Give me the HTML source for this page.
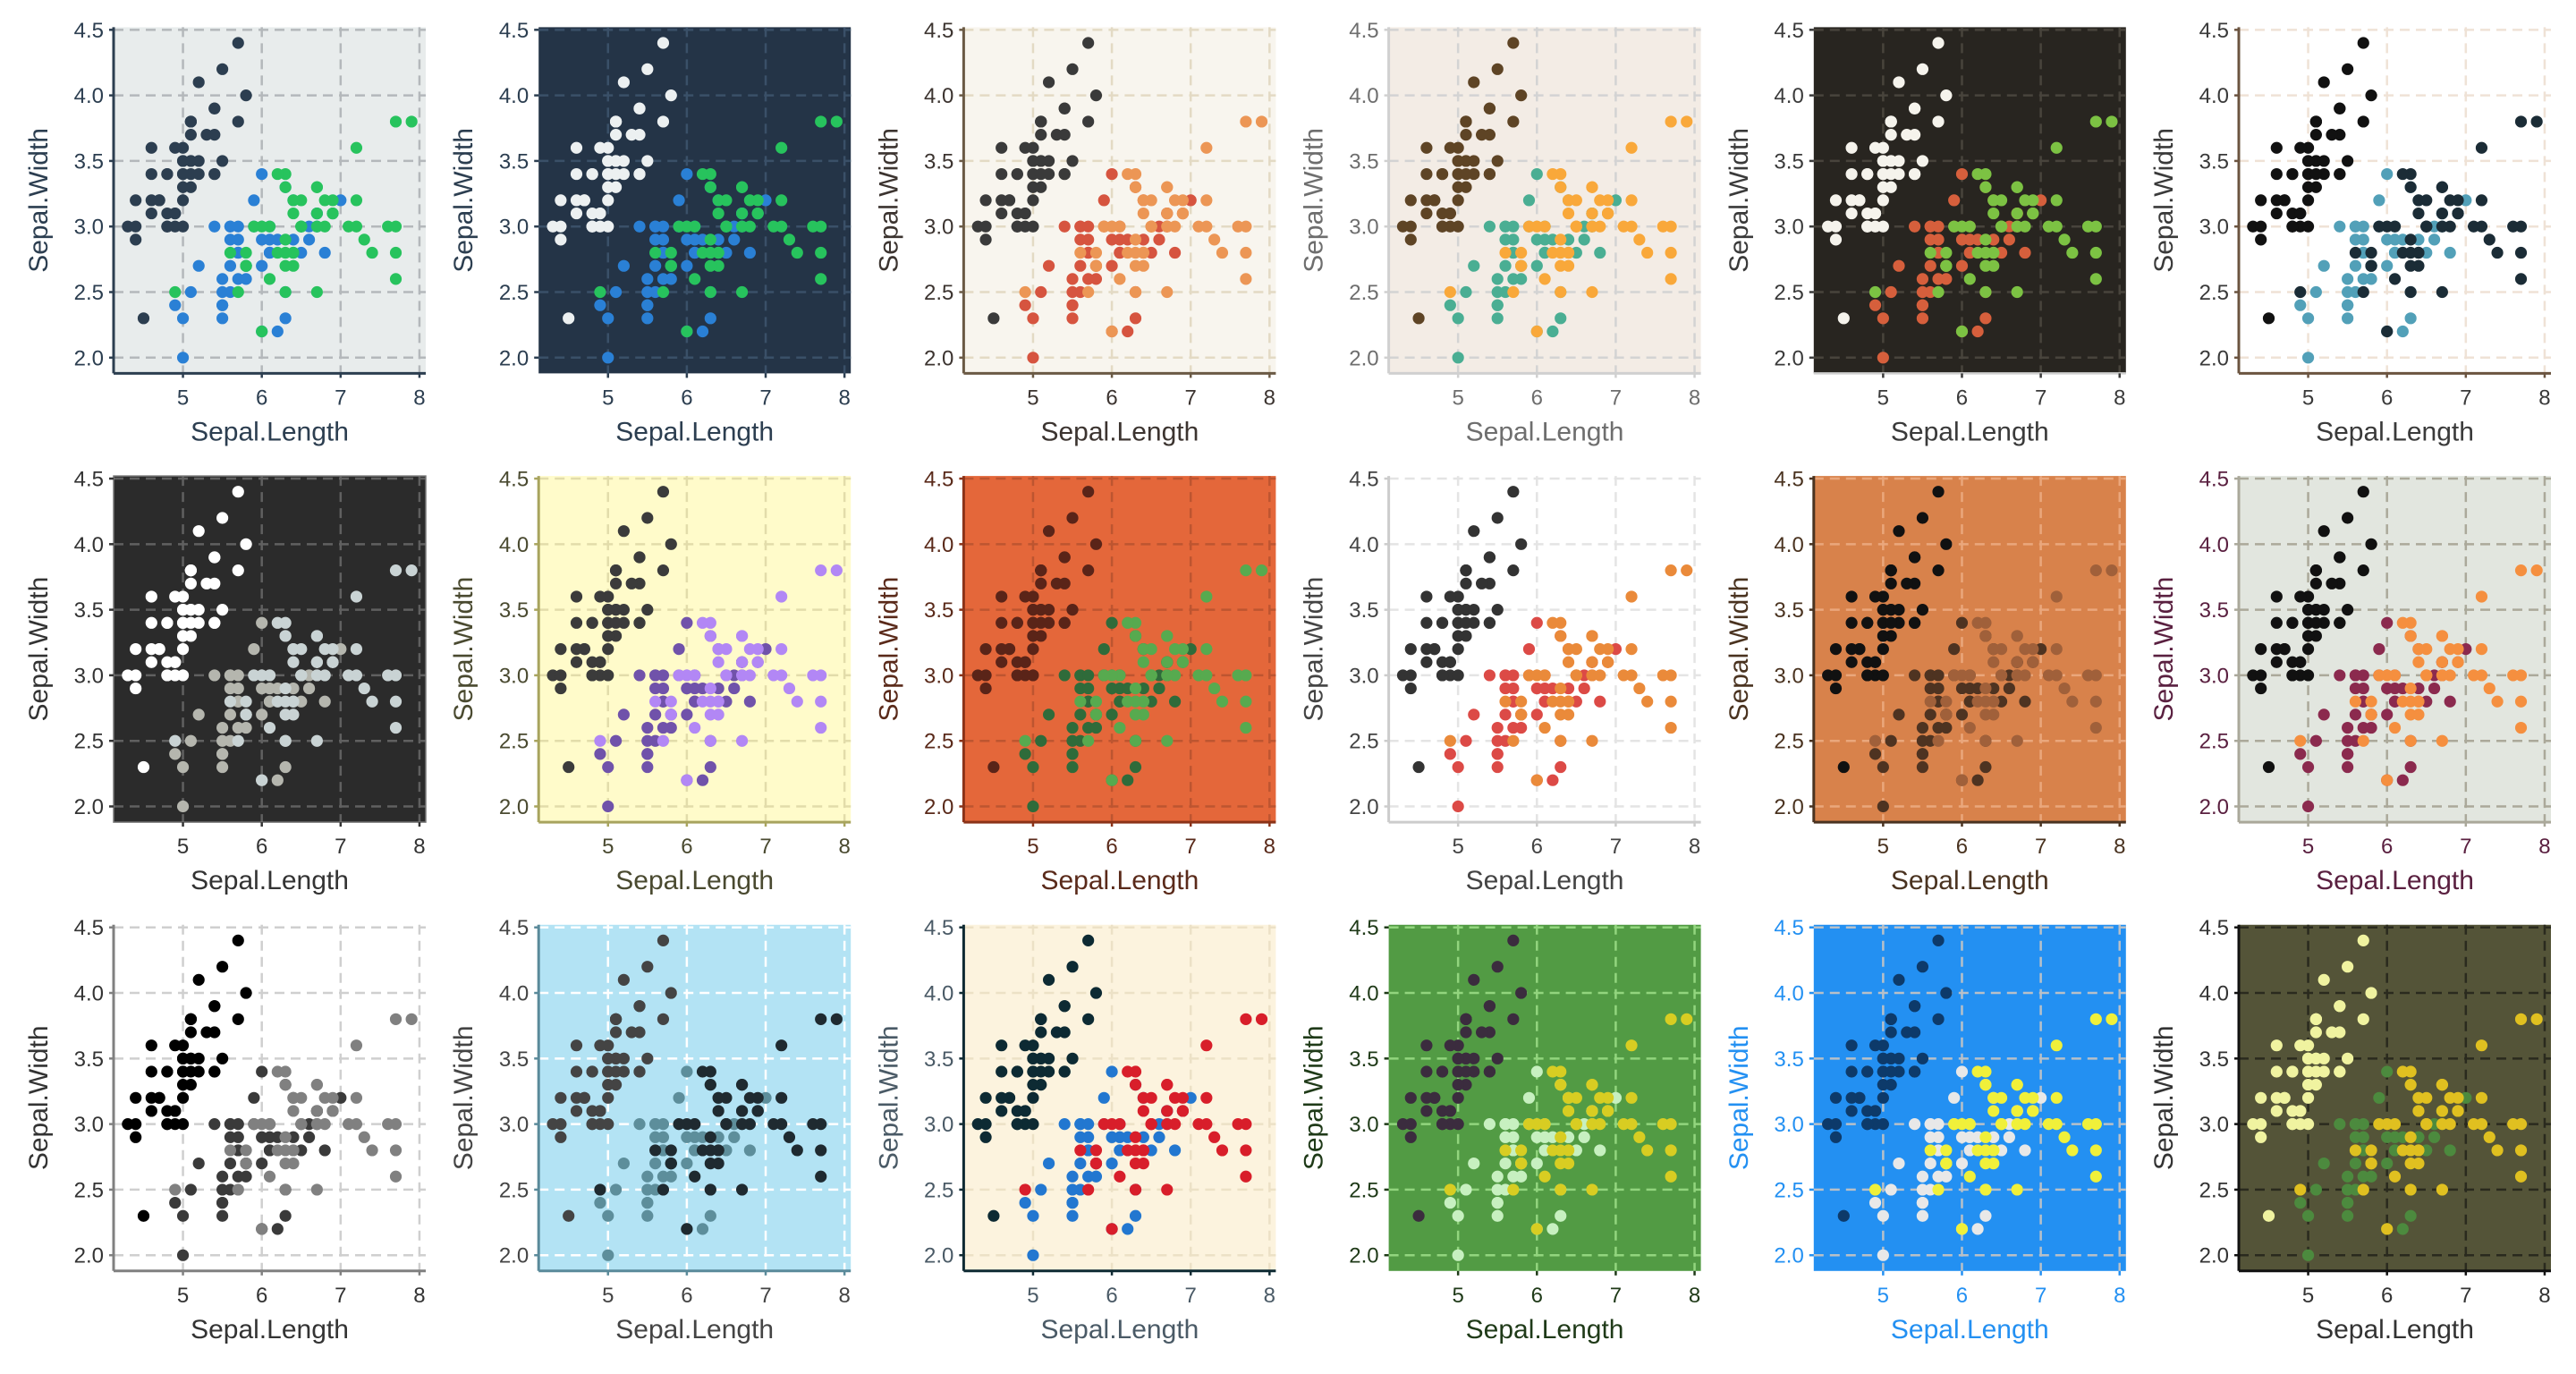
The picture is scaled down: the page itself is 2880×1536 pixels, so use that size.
<!DOCTYPE html>
<html><head><meta charset="utf-8"><style>
html,body{margin:0;padding:0;background:#fff}
svg{display:block}
text{font-family:"Liberation Sans",Arial,sans-serif}
</style></head><body>
<svg id="chart" width="2880" height="1536" viewBox="0 0 2880 1536" xmlns="http://www.w3.org/2000/svg"></svg>
<script>
const sepalLength=[5.1,4.9,4.7,4.6,5.0,5.4,4.6,5.0,4.4,4.9,5.4,4.8,4.8,4.3,5.8,5.7,5.4,5.1,5.7,5.1,5.4,5.1,4.6,5.1,4.8,5.0,5.0,5.2,5.2,4.7,4.8,5.4,5.2,5.5,4.9,5.0,5.5,4.9,4.4,5.1,5.0,4.5,4.4,5.0,5.1,4.8,5.1,4.6,5.3,5.0,
7.0,6.4,6.9,5.5,6.5,5.7,6.3,4.9,6.6,5.2,5.0,5.9,6.0,6.1,5.6,6.7,5.6,5.8,6.2,5.6,5.9,6.1,6.3,6.1,6.4,6.6,6.8,6.7,6.0,5.7,5.5,5.5,5.8,6.0,5.4,6.0,6.7,6.3,5.6,5.5,5.5,6.1,5.8,5.0,5.6,5.7,5.7,6.2,5.1,5.7,
6.3,5.8,7.1,6.3,6.5,7.6,4.9,7.3,6.7,7.2,6.5,6.4,6.8,5.7,5.8,6.4,6.5,7.7,7.7,6.0,6.9,5.6,7.7,6.3,6.7,7.2,6.2,6.1,6.4,7.2,7.4,7.9,6.4,6.3,6.1,7.7,6.3,6.4,6.0,6.9,6.7,6.9,5.8,6.8,6.7,6.7,6.3,6.5,6.2,5.9];
const sepalWidth=[3.5,3.0,3.2,3.1,3.6,3.9,3.4,3.4,2.9,3.1,3.7,3.4,3.0,3.0,4.0,4.4,3.9,3.5,3.8,3.8,3.4,3.7,3.6,3.3,3.4,3.0,3.4,3.5,3.4,3.2,3.1,3.4,4.1,4.2,3.1,3.2,3.5,3.6,3.0,3.4,3.5,2.3,3.2,3.5,3.8,3.0,3.8,3.2,3.7,3.3,
3.2,3.2,3.1,2.3,2.8,2.8,3.3,2.4,2.9,2.7,2.0,3.0,2.2,2.9,2.9,3.1,3.0,2.7,2.2,2.5,3.2,2.8,2.5,2.8,2.9,3.0,2.8,3.0,2.9,2.6,2.4,2.4,2.7,2.7,3.0,3.4,3.1,2.3,3.0,2.5,2.6,3.0,2.6,2.3,2.7,3.0,2.9,2.9,2.5,2.8,
3.3,2.7,3.0,2.9,3.0,3.0,2.5,2.9,2.5,3.6,3.2,2.7,3.0,2.5,2.8,3.2,3.0,3.8,2.6,2.2,3.2,2.8,2.8,2.7,3.3,3.2,2.8,3.0,2.8,3.0,2.8,3.8,2.8,2.8,2.6,3.0,3.4,3.1,3.0,3.1,3.1,3.1,2.7,3.2,3.3,3.0,2.5,3.0,3.4,3.0];
const speciesNames=["setosa","versicolor","virginica"];
const species=[].concat(Array(50).fill(0),Array(50).fill(1),Array(50).fill(2));
const xTicks=[5,6,7,8];
const xTickLabels=["5","6","7","8"];
const yTicks=[2.0,2.5,3.0,3.5,4.0,4.5];
const yTickLabels=["2.0","2.5","3.0","3.5","4.0","4.5"];

// theme: bg, grid, axisLine (null=none), text, tickColor, colors, extra
const themes=[
["#e8ecec","#b4b8bb","#2c3e50","#2c3e50","#2c3e50",["#2c3e50","#2a80d5","#27c35d"],null],
["#243447","#3a5068",null,"#2c3e50","#2c3e50",["#ecf0f1","#2a80d5","#27c35d"],null],
["#f8f5ee","#e3dac4","#6b5a45","#3c3430","#6b5a45",["#3a3a3a","#d6543f","#ec9655"],null],
["#f3ece5","#d3d3d3","#d0d0d0","#6e6e6e","#d0d0d0",["#5e4425","#4aae93","#f9a83a"],null],
["#282520","#48443c",null,"#3a3a3a","#3a3a3a",["#f5f3ec","#d65f3c","#7cc243"],"bottom"],
["#ffffff","#efe2d6","#6b5440","#3a3a3a","#6b5440",["#111111","#52a0b8","#1b2c36"],null],
["#2b2b2b","#606060",null,"#333333","#333333",["#ffffff","#b5b6ae","#c9d3d4"],"border"],
["#fffbca","#e2dcaa","#a8a45e","#4a4a30","#a8a45e",["#3b3b3b","#7052aa","#b287f5"],null],
["#e4673a","#bd5530","#8b3318","#5a2a1a","#8b3318",["#5a2418","#2f6b3a","#57aa4f"],null],
["#ffffff","#e4e4e4","#cccccc","#444444","#cccccc",["#333333","#dc4a46","#ea8a3a"],null],
["#d8824b","#eaa77c","#4a3320","#4a3320","#4a3320",["#111111","#4e3321","#a0603a"],null],
["#e2e6df","#aba99a","#aaa89a","#5a2040","#aaa89a",["#111111","#8b2a4e","#f58f3f"],null],
["#ffffff","#cfcfcf","#808080","#333333","#808080",["#000000","#3a3a3a","#808080"],null],
["#b3e3f4","#ffffff","#5a8a9a","#444444","#5a8a9a",["#444444","#5d8e9b","#1f2a30"],null],
["#fcf3de","#ece1c6","#0f2a33","#4a5a66","#0f2a33",["#0d2a33","#2277d0","#d81e2a"],null],
["#529b44","#92d57e",null,"#1f3a18","#1f3a18",["#3b2c3e","#c7f0c0","#d8cd22"],null],
["#2390f2","#b8c0c8",null,"#2390f2","#2390f2",["#0d3a6a","#e8e8e8","#f0f03a"],null],
["#545438","#2a2a1e","#111111","#333333","#111111",["#f0f3a0","#4c8a3e","#e0c020"],null]
];
const svg=document.getElementById('chart');
const NS="http://www.w3.org/2000/svg";
function mk(tag,attrs,parent){const e=document.createElementNS(NS,tag);for(const k in attrs)e.setAttribute(k,attrs[k]);parent.appendChild(e);return e;}
const W=349,H=387,X0=4.12,X1=8.08,Y0=1.88,Y1=4.52;
themes.forEach((t,i)=>{
  const r=Math.floor(i/6),c=i%6;
  const L=127+475.2*c,T=30.4+501.7*r;
  const px=v=>L+(v-X0)/(X1-X0)*W;
  const py=v=>T+(Y1-v)/(Y1-Y0)*H;
  const g=mk('g',{},svg);
  
  
  const bg=mk('rect',{x:L,y:T,width:W,height:H,fill:t[0]},g);
  
  
  xTicks.forEach(v=>{const l=mk('line',{x1:px(v),x2:px(v),y1:T,y2:T+H,stroke:t[1],'stroke-width':2.5,'stroke-dasharray':'11 7'},g);
    
    });
  yTicks.forEach(v=>{const l=mk('line',{x1:L,x2:L+W,y1:py(v),y2:py(v),stroke:t[1],'stroke-width':2.5,'stroke-dasharray':'11 7'},g);
    
    });
  if(t[6]==='bottom'){
    const b=mk('line',{x1:L,x2:L+W,y1:T+H,y2:T+H,stroke:'#cfcfcf','stroke-width':2.5},g);
    
    
  }
  if(t[6]==='border'){
    const b=mk('rect',{x:L,y:T,width:W,height:H,fill:'none',stroke:'#777777','stroke-width':1.5},g);
    
    
  }
  if(t[2]){
    const a1=mk('line',{x1:L,x2:L,y1:T,y2:T+H,stroke:t[2],'stroke-width':3},g);
    
    
    const a2=mk('line',{x1:L,x2:L+W,y1:T+H,y2:T+H,stroke:t[2],'stroke-width':3},g);
    
    
  }
  xTicks.forEach((v,k)=>{
    const tk=mk('line',{x1:px(v),x2:px(v),y1:T+H,y2:T+H+5,stroke:t[4],'stroke-width':2.5},g);
    
    
    const tx=mk('text',{x:px(v),y:T+H+35,'text-anchor':'middle','font-size':24,fill:t[3]},g);
    tx.textContent=xTickLabels[k];
    
    
  });
  yTicks.forEach((v,k)=>{
    const tk=mk('line',{x1:L-5,x2:L,y1:py(v),y2:py(v),stroke:t[4],'stroke-width':2.5},g);
    
    
    const tx=mk('text',{x:L-11,y:py(v)+8.5,'text-anchor':'end','font-size':24,fill:t[3]},g);
    tx.textContent=yTickLabels[k];
    
    
  });
  const xt=mk('text',{x:L+W/2,y:T+H+75,'text-anchor':'middle','font-size':30,fill:t[3]},g);
  xt.textContent='Sepal.Length';
  
  
  const yx=L-74,yy=T+H/2;
  const yt=mk('text',{x:yx,y:yy,'text-anchor':'middle','font-size':30,fill:t[3],transform:`rotate(-90 ${yx} ${yy})`},g);
  yt.textContent='Sepal.Width';
  
  
  sepalLength.forEach((v,k)=>{
    const p=mk('circle',{cx:px(v),cy:py(sepalWidth[k]),r:6.6,fill:t[5][species[k]]},g);
    
    
  });
});
</script>
</body></html>
